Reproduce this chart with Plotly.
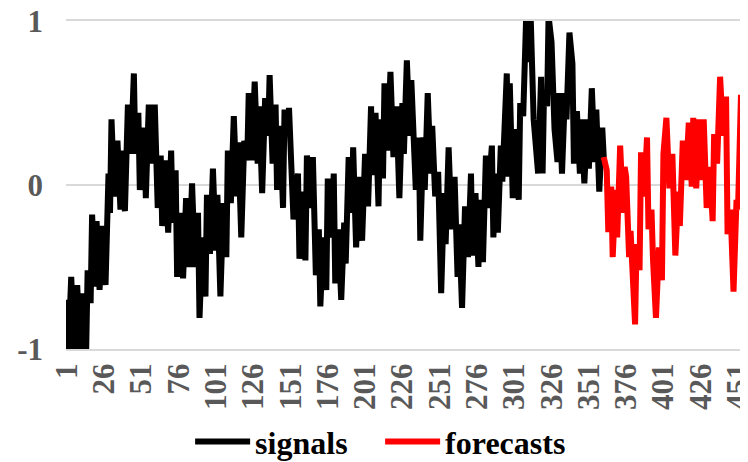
import plotly.graph_objects as go

# ---- data ----
sig_x = [1, 2, 4, 6, 8, 10, 11, 14, 15, 17, 18, 20, 21, 23, 25, 27, 29, 30, 31, 33,
         35, 37, 38, 40, 42, 44, 46, 47, 49, 50, 53, 54, 56, 58, 60, 62, 64, 65, 67, 69,
         71, 72, 74, 75, 77, 79, 81, 83, 85, 87, 89, 90, 92, 94, 95, 97, 99, 101, 102, 104,
         106, 108, 109, 111, 113, 115, 116, 118, 120, 122, 123, 125, 127, 129, 130, 132, 134, 136, 137, 139,
         141, 142, 144, 146, 147, 149, 150, 153, 156, 157, 159, 161, 162, 164, 166, 168, 170, 171, 173, 175,
         176, 178, 180, 181, 183, 185, 187, 188, 190, 192, 193, 195, 197, 199, 201, 203, 205, 206, 208, 210,
         211, 213, 214, 216, 218, 220, 222, 224, 226, 227, 229, 231, 232, 234, 235, 237, 238, 240, 241, 243,
         245, 246, 248, 250, 252, 254, 255, 257, 259, 261, 263, 264, 266, 268, 270, 272, 273, 275, 277, 278,
         280, 282, 283, 286, 287, 289, 290, 292, 293, 296, 297, 298, 300, 302, 304, 305, 307, 309, 310, 312,
         313, 314, 317, 319, 320, 321, 323, 324, 326, 328, 330, 331, 333, 335, 336, 338, 340, 341, 343, 345,
         346, 348, 350, 351, 353, 355, 356, 358, 360, 361]
sig_y = [-0.70, -1.02, -0.56, -1.02, -0.61, -1.02, -0.66, -1.02, -0.52, -0.72, -0.18, -0.62, -0.22, -0.64, -0.25, -0.61, 0.07, -0.17, 0.40, -0.07,
         0.27, -0.15, 0.21, -0.16, 0.49, 0.19, 0.68, 0.19, 0.44, -0.03, 0.35, -0.08, 0.49, 0.13, 0.49, -0.14, 0.18, -0.25, 0.15, -0.29,
         0.21, -0.23, 0.09, -0.56, -0.17, -0.57, -0.08, -0.50, 0.01, -0.50, -0.17, -0.81, -0.32, -0.68, -0.06, -0.42, 0.10, -0.40, -0.06, -0.68,
         -0.11, -0.44, 0.21, -0.11, 0.42, -0.07, 0.26, -0.32, 0.27, 0.15, 0.56, 0.15, 0.63, 0.13, 0.48, -0.05, 0.53, 0.30, 0.67, 0.13,
         0.49, -0.03, 0.36, -0.14, 0.46, 0.30, 0.47, -0.21, 0.07, -0.45, -0.04, -0.46, 0.18, -0.14, 0.17, -0.55, -0.27, -0.74, -0.32, -0.64,
         0.04, -0.32, 0.07, -0.60, -0.27, -0.70, -0.23, -0.48, 0.17, -0.17, 0.23, -0.38, 0.05, -0.34, 0.19, -0.13, 0.48, 0.06, 0.44, -0.13,
         0.40, 0.04, 0.62, 0.21, 0.69, 0.17, 0.48, -0.08, 0.50, 0.19, 0.76, 0.30, 0.64, 0.29, -0.03, 0.29, -0.34, 0.29, -0.03, 0.56,
         0.07, 0.36, -0.07, 0.08, -0.66, -0.05, -0.36, 0.23, -0.27, 0.05, -0.56, -0.24, -0.75, -0.13, -0.44, 0.07, -0.43, -0.05, -0.50, -0.09,
         -0.47, 0.18, -0.14, 0.24, -0.32, 0.07, -0.29, 0.24, 0.02, 0.68, 0.05, 0.62, -0.08, 0.34, -0.09, 0.50, 0.42, 1.03, 0.75, 1.03,
         0.82, 0.40, 0.07, 0.66, 0.07, 0.58, 0.48, 1.03, 0.87, 0.34, 0.14, 0.56, 0.07, 0.56, 0.40, 0.93, 0.74, 0.13, 0.45, 0.07,
         0.40, 0.01, 0.40, 0.10, 0.59, 0.14, 0.46, -0.04, 0.35, 0.17]

fc_x = [361, 363, 364, 365, 366, 367, 369, 370, 372, 374, 375, 376, 378, 379, 382, 383, 385, 386, 388, 390,
        391, 393, 394, 396, 398, 400, 401, 403, 405, 407, 409, 411, 412, 414, 416, 418, 420, 421, 423, 425,
        427, 428, 430, 432, 434, 435, 437, 439, 441, 443, 444, 446, 448, 450, 451, 453, 455, 456, 458]
fc_y = [0.17, 0.09, -0.27, -0.27, -0.01, -0.44, -0.03, -0.32, 0.24, -0.17, 0.11, 0.05, -0.44, -0.28, -0.85, -0.36, -0.52, 0.20, -0.07, 0.29,
        -0.27, -0.15, -0.45, -0.81, -0.38, -0.58, 0.19, 0.41, -0.02, 0.19, -0.43, -0.04, -0.25, 0.27, 0.03, 0.38, -0.01, 0.41, -0.02, 0.40,
        0.03, 0.40, -0.14, 0.11, -0.22, 0.31, 0.13, 0.66, 0.30, 0.54, -0.30, -0.15, -0.65, -0.09, -0.15, 0.55, 0.26, 0.40, -0.32]

x_ticks = [1, 26, 51, 76, 101, 126, 151, 176, 201, 226, 251, 276, 301, 326, 351, 376, 401, 426, 451]
x_tick_labels = [str(v) for v in x_ticks]
y_ticks = [-1, 0, 1]
y_tick_labels = ["-1", "0", "1"]
series_names = ["signals", "forecasts"]

FONT = "Liberation Serif, Times New Roman, serif"

fig = go.Figure()
fig.add_trace(go.Scatter(x=sig_x, y=sig_y, mode="lines", name=series_names[0],
                         line=dict(color="#000000", width=6)))
fig.add_trace(go.Scatter(x=fc_x, y=fc_y, mode="lines", name=series_names[1],
                         line=dict(color="#ff0000", width=6)))

# the page body adds an 8px offset, so the figure is 8px smaller than the window
fig.update_layout(
    width=740, height=454,
    margin=dict(l=58, r=0, t=13, b=113, autoexpand=False),
    paper_bgcolor="white", plot_bgcolor="white",
    font=dict(family=FONT, size=28, color="#595959", weight="bold"),
    showlegend=True,
    legend=dict(orientation="h", x=0.182, xanchor="left", y=-0.283, yanchor="middle",
                font=dict(family=FONT, size=32, color="#000000", weight="bold"),
                bgcolor="rgba(0,0,0,0)", itemwidth=55,
                entrywidth=120, entrywidthmode="pixels"),
)
fig.update_xaxes(range=[0.5, 457.7], tickmode="array", tickvals=x_ticks, ticktext=x_tick_labels,
                 tickangle=-90, showgrid=False, zeroline=False, automargin=False,
                 showline=True, mirror=True, linecolor="#d9d9d9", linewidth=2, ticks="",
                 ticklabeloverflow="allow",
                 tickfont=dict(family=FONT, size=31, color="#595959", weight="bold"))
fig.update_yaxes(range=[-1, 1], tickmode="array", tickvals=y_ticks, ticktext=y_tick_labels,
                 showgrid=True, gridcolor="#d9d9d9", gridwidth=2, zeroline=False, showline=False,
                 ticks="", ticklabelstandoff=22, automargin=False, ticklabeloverflow="allow",
                 tickfont=dict(family=FONT, size=31, color="#595959", weight="bold"))

fig.write_html("out.html")
